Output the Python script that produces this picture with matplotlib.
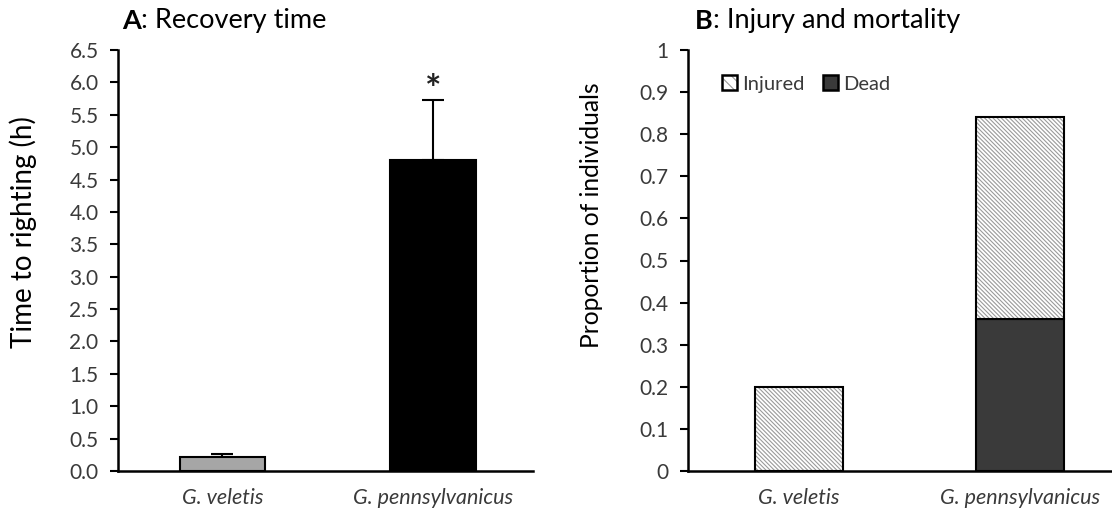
import matplotlib
matplotlib.use("Agg")
import matplotlib.pyplot as plt
from matplotlib.patches import Patch
import numpy as np

plt.rcParams['font.family'] = ['Lato', 'DejaVu Sans']
plt.rcParams['hatch.linewidth'] = 0.8

# data
species = ['G. veletis', 'G. pennsylvanicus']
righting_time = [0.22, 4.8]      # hours
righting_err = [0.04, 0.93]      # upper error only
injured = [0.20, 0.48]
dead = [0.0, 0.36]

time_ticks = np.arange(0, 6.51, 0.5)
time_ticklabels = ['%.1f' % t for t in time_ticks]
prop_ticks = np.arange(0, 1.01, 0.1)
prop_ticklabels = ['0', '0.1', '0.2', '0.3', '0.4', '0.5', '0.6', '0.7', '0.8', '0.9', '1']

TXT = '#3a3a3a'
HATCH = '\\' * 8
W, H = 1112, 514
fig = plt.figure(figsize=(W / 100, H / 100), dpi=100)

y0 = (H - 471) / H
y1 = (H - 50) / H
axA = fig.add_axes([118 / W, y0, (533 - 118) / W, y1 - y0])
axB = fig.add_axes([688 / W, y0, (W - 688) / W, y1 - y0])

x = np.arange(len(species))


def style(ax):
    for s in ['top', 'right']:
        ax.spines[s].set_visible(False)
    for s in ['left', 'bottom']:
        ax.spines[s].set_linewidth(1.8)
    ax.tick_params(axis='y', direction='out', length=6, width=1.5,
                   labelsize=15, labelcolor=TXT, pad=8)
    ax.tick_params(axis='x', length=0, labelsize=15.5, labelcolor=TXT, pad=12)
    ax.set_xticks(x)
    ax.set_xticklabels(species, style='italic')


# ---- A: recovery time ----
axA.errorbar(x, righting_time, yerr=[np.zeros(len(x)), righting_err], fmt='none',
             ecolor='black', elinewidth=1.5, capsize=8, capthick=1.5, zorder=1)
axA.bar(x, righting_time, width=0.404, color=['#a6a6a6', 'black'],
        edgecolor='black', linewidth=1.5, zorder=2)
axA.annotate('*', xy=(1, righting_time[1] + righting_err[1]), xytext=(0, -6),
             textcoords='offset points', ha='center', va='bottom',
             fontsize=28, fontweight='bold', color='#222222')
axA.set_xlim(-0.496, 1.475)
axA.set_ylim(0, 6.5)
axA.set_yticks(time_ticks)
axA.set_yticklabels(time_ticklabels)
style(axA)
axA.set_ylabel('Time to righting (h)', fontsize=20, color='black')
axA.yaxis.set_label_coords(-0.195, 0.568)

tA = axA.text(4 / 415, 1.05, 'A', transform=axA.transAxes, fontsize=19.5,
              fontweight='bold', va='baseline', ha='left')
axA.annotate(': Recovery time', xy=(1, 0), xycoords=tA, va='bottom', ha='left',
             fontsize=19.5)

# ---- B: injury and mortality ----
bw = 0.40
axB.bar(x, dead, width=bw, color='#3a3a3a', edgecolor='black', linewidth=1.5, zorder=2)
axB.bar(x, injured, width=bw, bottom=dead, color='white', edgecolor='#9a9a9a',
        hatch=HATCH, linewidth=0, zorder=2)
axB.bar(x, injured, width=bw, bottom=dead, fill=False, edgecolor='black',
        linewidth=1.5, zorder=3)
axB.set_xlim(-0.502, 1.416)
axB.set_ylim(0, 1)
axB.set_yticks(prop_ticks)
axB.set_yticklabels(prop_ticklabels)
style(axB)
axB.set_ylabel('Proportion of individuals', fontsize=17.7, color='black')
axB.yaxis.set_label_coords(-0.2, 0.608)

tB = axB.text(7 / 424, 1.05, 'B', transform=axB.transAxes, fontsize=19.5,
              fontweight='bold', va='baseline', ha='left')
axB.annotate(': Injury and mortality', xy=(1, 0), xycoords=tB, va='bottom', ha='left',
             fontsize=19.5)

h_inj = (Patch(facecolor='white', edgecolor='#9a9a9a', hatch='\\\\\\', linewidth=0),
         Patch(fill=False, edgecolor='black', linewidth=1.8))
h_dead = Patch(facecolor='#3a3a3a', edgecolor='black', linewidth=1.8)
leg = axB.legend([h_inj, h_dead], ['Injured', 'Dead'], loc='center left',
                 bbox_to_anchor=(0.08, 0.919), ncol=2, frameon=False,
                 fontsize=14.5, handlelength=0.75, handleheight=0.75,
                 handletextpad=0.25, columnspacing=0.9, borderaxespad=0,
                 borderpad=0)
for t in leg.get_texts():
    t.set_color(TXT)

fig.savefig('out.png', dpi=100)
